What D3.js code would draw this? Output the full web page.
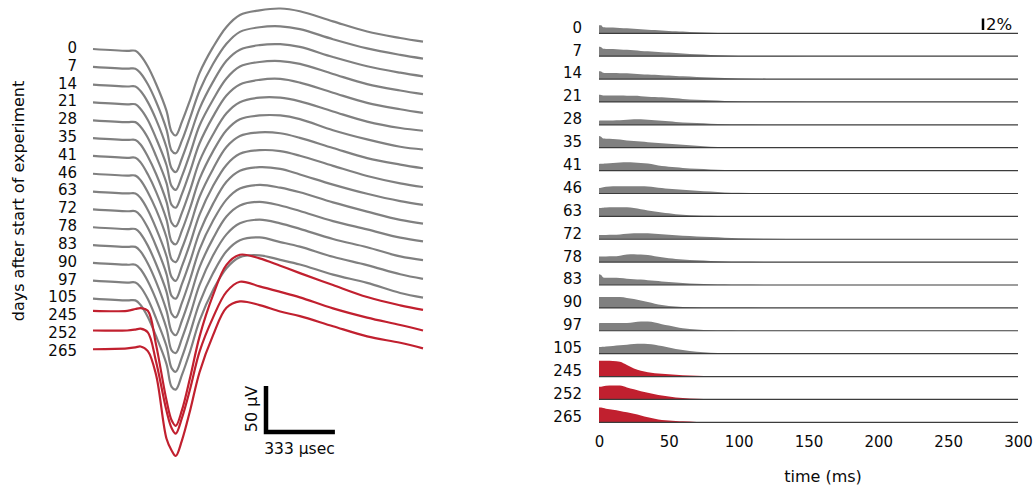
<!DOCTYPE html>
<html>
<head>
<meta charset="utf-8">
<script src="https://cdn.jsdelivr.net/npm/d3@7"></script>
<style>
  body { margin: 0; background: #fff; }
  text { font-family: "DejaVu Sans", sans-serif; fill: #0a0a0a; }
</style>
</head>
<body>
<svg id="chart" width="1036" height="487"></svg>
<script>
// recording days, one row per day
var days = [0, 7, 14, 21, 28, 35, 41, 46, 63, 72, 78, 83, 90, 97, 105, 245, 252, 265];
var treatedDays = [245, 252, 265];

// mean spike waveform, sample times (µsec) and voltage (µV) per day
var spikeTimes = [0, 165, 205, 230, 265, 305, 355, 380, 400, 430, 470, 515, 580, 645, 710, 805, 905, 1000, 1160, 1325, 1485, 1595];
var spikeUV = [
  [0,-2,-2,-7,-19,-38,-67,-90,-94,-79,-55,-26,2,24,37,42,44,41,30,19,12,8],
  [0,-2,-2,-7,-19,-38,-68,-91,-94,-80,-55,-26,3,25,38,43,44,41,30,20,13,9],
  [0,-2,-2,-7,-19,-38,-68,-91,-95,-80,-55,-26,3,26,38,43,44,41,30,20,13,9],
  [0,-2,-2,-7,-19,-39,-68,-91,-95,-80,-55,-25,3,26,39,44,45,42,31,20,13,9],
  [0,-2,-2,-7,-19,-39,-68,-92,-95,-80,-55,-25,4,27,39,44,45,41,30,19,12,8],
  [0,-2,-2,-7,-20,-39,-69,-92,-96,-81,-56,-25,4,27,39,44,44,40,29,18,11,8],
  [0,-2,-2,-7,-20,-39,-69,-93,-96,-81,-56,-25,5,28,40,44,44,40,28,18,10,7],
  [0,-2,-2,-7,-20,-39,-69,-93,-96,-81,-56,-25,5,29,41,45,44,39,28,17,10,6],
  [0,-2,-2,-7,-20,-40,-70,-93,-97,-81,-56,-25,6,29,41,45,44,39,28,17,9,5],
  [0,-2,-2,-7,-20,-40,-70,-94,-97,-81,-56,-25,6,30,42,46,44,38,27,17,9,5],
  [0,-2,-2,-7,-20,-40,-70,-94,-98,-82,-56,-24,7,30,42,46,43,38,27,17,8,4],
  [0,-2,-2,-7,-20,-40,-71,-94,-98,-82,-56,-24,7,31,43,47,43,37,26,17,8,4],
  [0,-2,-2,-7,-20,-40,-71,-95,-98,-82,-56,-24,8,31,43,47,43,37,26,17,7,3],
  [0,-2,-2,-7,-20,-41,-71,-95,-99,-83,-56,-24,8,32,44,47,42,37,26,17,7,2],
  [0,-2,-2,-7,-20,-41,-71,-96,-99,-83,-57,-24,9,33,45,47,42,37,26,17,6,1],
  [6,6,8,9,6,-31,-91,-113,-119,-102,-66,-22,23,56,67,63,55,47,34,21,12,7],
  [4,4,5,6,2,-30,-83,-102,-108,-91,-59,-19,18,46,57,52,46,40,28,18,10,4],
  [3,4,5,6,1,-25,-94,-107,-113,-96,-63,-22,18,48,55,51,44,39,28,17,10,4]
];

// inter-spike interval histograms, time (ms) and % of intervals per day
var isiTimes = [0, 1.5, 3, 5, 10, 15, 20, 25, 30, 35, 40, 45, 50, 55, 60, 70, 80, 90, 100, 120, 150, 300];
var isiPct = [
  [1.39,1.39,1.04,1.01,0.99,0.94,0.87,0.80,0.71,0.63,0.56,0.49,0.42,0.35,0.30,0.17,0.10,0.06,0.04,0.02,0.01,0],
  [1.62,1.57,1.30,1.27,1.25,1.18,1.11,1.03,0.92,0.85,0.78,0.70,0.63,0.54,0.46,0.33,0.21,0.10,0.04,0.02,0.01,0],
  [1.34,1.30,1.08,1.04,1.04,1.03,0.99,0.92,0.85,0.80,0.75,0.68,0.61,0.54,0.47,0.37,0.26,0.17,0.09,0.03,0.01,0],
  [1.27,1.22,1.11,1.10,1.10,1.10,1.08,1.06,1.01,0.92,0.87,0.82,0.73,0.63,0.52,0.40,0.28,0.17,0.09,0.03,0.01,0],
  [0.73,0.75,0.75,0.75,0.77,0.80,0.87,0.96,0.97,0.90,0.80,0.70,0.61,0.50,0.42,0.30,0.19,0.10,0.06,0.03,0.01,0],
  [2.03,1.91,1.60,1.57,1.53,1.43,1.27,1.17,1.06,0.96,0.87,0.77,0.68,0.59,0.52,0.35,0.17,0.09,0.03,0.01,0,0],
  [1.15,1.17,1.18,1.22,1.30,1.39,1.44,1.41,1.32,1.22,1.01,0.78,0.68,0.56,0.45,0.33,0.21,0.12,0.07,0.03,0.01,0],
  [0.97,1.01,1.08,1.17,1.25,1.27,1.27,1.27,1.27,1.22,1.10,0.96,0.83,0.73,0.64,0.49,0.33,0.19,0.12,0.05,0.02,0],
  [1.44,1.46,1.50,1.53,1.57,1.57,1.57,1.44,1.25,1.04,0.85,0.68,0.52,0.38,0.28,0.16,0.09,0.05,0.03,0.02,0.01,0],
  [0.75,0.75,0.75,0.75,0.77,0.83,0.94,1.03,1.04,1.03,0.94,0.85,0.77,0.68,0.61,0.49,0.38,0.28,0.19,0.09,0.03,0],
  [0.97,0.99,0.99,0.99,1.01,1.13,1.32,1.39,1.32,1.22,1.01,0.83,0.66,0.56,0.45,0.31,0.19,0.10,0.05,0.03,0.01,0],
  [1.86,1.74,1.32,1.27,1.25,1.20,1.10,1.01,0.94,0.83,0.73,0.63,0.52,0.43,0.37,0.23,0.14,0.07,0.03,0.01,0,0],
  [1.88,1.91,1.91,1.91,1.91,1.88,1.74,1.53,1.29,1.01,0.73,0.52,0.35,0.24,0.17,0.07,0.03,0.02,0.01,0,0,0],
  [1.32,1.34,1.34,1.34,1.34,1.34,1.36,1.48,1.62,1.60,1.44,1.13,0.90,0.66,0.45,0.23,0.10,0.03,0.01,0,0,0],
  [1.15,1.17,1.20,1.25,1.32,1.44,1.57,1.69,1.74,1.69,1.57,1.32,1.06,0.83,0.63,0.35,0.17,0.09,0.04,0.02,0.01,0],
  [2.73,2.73,2.73,2.73,2.71,2.57,2.00,1.39,0.99,0.73,0.56,0.47,0.38,0.30,0.23,0.12,0.07,0.04,0.03,0.01,0,0],
  [2.19,2.21,2.30,2.38,2.43,2.40,2.09,1.76,1.43,1.15,0.90,0.68,0.50,0.35,0.24,0.12,0.05,0.03,0.02,0.01,0,0],
  [2.56,2.56,2.47,2.37,2.19,1.98,1.74,1.50,1.20,0.87,0.61,0.40,0.30,0.21,0.17,0.07,0.03,0.02,0.01,0,0,0]
];
var isiTicks = [0, 50, 100, 150, 200, 250, 300];

var gray = "#808080", red = "#c1202f";
function colorOf(d) { return treatedDays.indexOf(d) >= 0 ? red : gray; }

var svg = d3.select("#chart");

// ---------- left: spike waveforms ----------
var tx = d3.scaleLinear().domain([0, 1595]).range([93, 423]);
var uv = d3.scaleLinear().domain([-50, 50]).range([46, -46]);
var rowL = d3.scalePoint().domain(days).range([47.5, 350.5]);

var wave = d3.line()
  .x(function(v, i) { return tx(spikeTimes[i]); })
  .y(function(v) { return uv(v); })
  .curve(d3.curveCatmullRom.alpha(0.5));

// grey traces first, red on top
var order = days.map(function(d, i) { return i; })
  .sort(function(a, b) { return (colorOf(days[a]) === red) - (colorOf(days[b]) === red); });

svg.append("g").selectAll("path")
  .data(order)
  .enter()
  .append("path")
    .attr("transform", function(i) { return "translate(0," + (rowL(days[i]) + 1.5) + ")"; })
    .attr("d", function(i) { return wave(spikeUV[i]); })
    .attr("fill", "none")
    .attr("stroke", function(i) { return colorOf(days[i]); })
    .attr("stroke-width", 2.2)
    .attr("stroke-linejoin", "round");

svg.append("g").selectAll("text")
  .data(days)
  .enter()
  .append("text")
    .attr("x", 77)
    .attr("y", function(d) { return rowL(d); })
    .attr("dy", "0.36em")
    .attr("text-anchor", "end")
    .style("font-size", "15px")
    .text(function(d) { return d; });

svg.append("text")
  .attr("transform", "translate(18,201) rotate(-90)")
  .attr("dy", "0.36em")
  .attr("text-anchor", "middle")
  .style("font-size", "16px")
  .text("days after start of experiment");

// scale bars
var sbX = 266, sbY = 432;
svg.append("path")
  .attr("d", "M" + sbX + "," + (sbY + uv(50)) + "V" + sbY + "H" + (sbX + tx(333) - tx(0)))
  .attr("fill", "none")
  .attr("stroke", "#000")
  .attr("stroke-width", 4.5);
svg.append("text")
  .attr("transform", "translate(251," + (sbY + uv(25)) + ") rotate(-90)")
  .attr("dy", "0.36em")
  .attr("text-anchor", "middle")
  .style("font-size", "16px")
  .text("50 µV");
svg.append("text")
  .attr("x", sbX + (tx(333) - tx(0)) / 2 - 1)
  .attr("y", 448)
  .attr("dy", "0.36em")
  .attr("text-anchor", "middle")
  .style("font-size", "15.5px")
  .text("333 µsec");

// ---------- right: ISI histograms ----------
var hx = d3.scaleLinear().domain([0, 300]).range([599, 1018]);
var hy = d3.scaleLinear().domain([0, 2]).range([0, -11.5]);
var rowR = d3.scalePoint().domain(days).range([33.3, 422.3]);

var hist = d3.area()
  .x(function(v, i) { return hx(isiTimes[i]); })
  .y0(0)
  .y1(function(v) { return hy(v); })
  .curve(d3.curveMonotoneX);

var rows = svg.append("g").selectAll("g")
  .data(days)
  .enter()
  .append("g")
    .attr("transform", function(d) { return "translate(0," + rowR(d) + ")"; });

rows.append("path")
  .attr("d", function(d, i) { return hist(isiPct[i]); })
  .attr("fill", function(d) { return colorOf(d); });

rows.append("line")
  .attr("x1", hx(0))
  .attr("x2", hx(300))
  .attr("stroke", "#3c3c3c")
  .attr("stroke-width", 1.2);

rows.append("text")
  .attr("x", 582)
  .attr("y", -6)
  .attr("dy", "0.36em")
  .attr("text-anchor", "end")
  .style("font-size", "15px")
  .text(function(d) { return d; });

// 2% bar
svg.append("line")
  .attr("x1", 983).attr("x2", 983)
  .attr("y1", 30).attr("y2", 30 + hy(2))
  .attr("stroke", "#000")
  .attr("stroke-width", 2.5);
svg.append("text")
  .attr("x", 986)
  .attr("y", 24)
  .attr("dy", "0.36em")
  .style("font-size", "16.5px")
  .text("2%");

var axis = svg.append("g")
  .attr("transform", "translate(0,433)")
  .call(d3.axisBottom(hx).tickValues(isiTicks).tickSize(0));
axis.select(".domain").remove();
axis.selectAll("text")
  .attr("font-family", "DejaVu Sans, sans-serif")
  .style("font-size", "15px")
  .style("fill", "#0a0a0a");

svg.append("text")
  .attr("x", 823)
  .attr("y", 476)
  .attr("dy", "0.36em")
  .attr("text-anchor", "middle")
  .style("font-size", "16px")
  .text("time (ms)");
</script>
</body>
</html>
